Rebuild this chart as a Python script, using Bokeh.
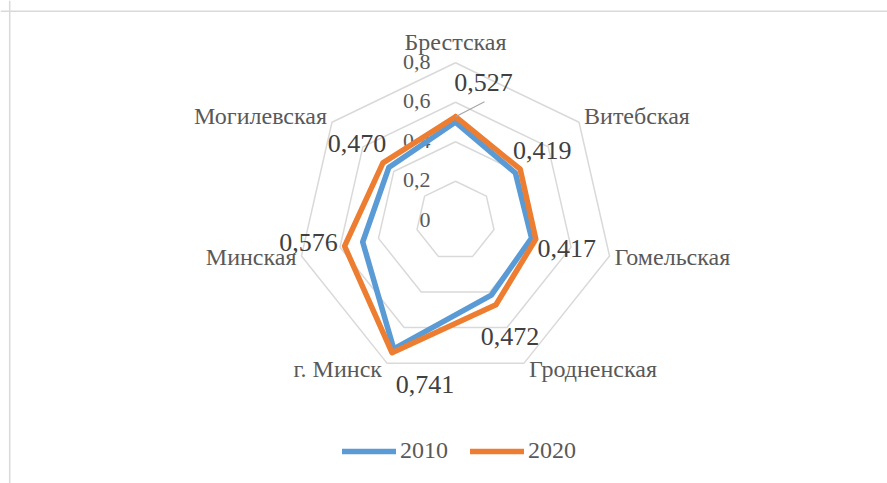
import math
from bokeh.plotting import figure
from bokeh.models import Range1d, Span, Legend, LegendItem, ColumnDataSource
from bokeh.core.properties import value
from bokeh.embed import file_html
from bokeh.resources import INLINE

# ---- data ----
categories = ["Брестская", "Витебская", "Гомельская", "Гродненская",
              "г. Минск", "Минская", "Могилевская"]
values_2010 = [0.500, 0.388, 0.395, 0.418, 0.720, 0.482, 0.432]
values_2020 = [0.527, 0.419, 0.417, 0.472, 0.741, 0.576, 0.470]
series_names = ["2010", "2020"]
tick_values = [0, 0.2, 0.4, 0.6, 0.8]
tick_labels = ["0", "0,2", "0,4", "0,6", "0,8"]

# ---- layout / style ----
W, H = 887, 483
S = 197.5               # pixels per unit of value
CX, CY = 455.0, 220.3   # centre of radar in figure pixels
FONT_NAME = "Times New Roman"
FONT = value(FONT_NAME)
TXT = "#595959"
GRID = "#d9d9d9"
C2010 = "#5b9bd5"
C2020 = "#ed7d31"

# data-label placement (screen px offsets from 2020 point)
lab_dx = [28, 22, 31, 14, 33, -36, -26]
lab_dy = [-34, -19, 9, 32, 32, -4, -19]

n = len(categories)
angles = [2 * math.pi * k / n for k in range(n)]


def xy(vals):
    xs = [v * math.sin(a) for v, a in zip(vals, angles)]
    ys = [v * math.cos(a) for v, a in zip(vals, angles)]
    return xs, ys


p = figure(width=W, height=H, output_backend="svg", toolbar_location=None,
           x_range=Range1d(-CX / S, (W - CX) / S),
           y_range=Range1d(-(H - CY) / S, CY / S),
           min_border=0, outline_line_color=None)
p.axis.visible = False
p.grid.visible = False
p.background_fill_color = "white"
p.border_fill_color = "white"

# chart-area border (left & top)
p.add_layout(Span(location=-CX / S + 9.2 / S, dimension="height",
                  line_color=GRID, line_width=1.5))
p.add_layout(Span(location=CY / S - 10.8 / S, dimension="width",
                  line_color=GRID, line_width=1.5))

# grid rings
for t in tick_values[1:]:
    gx, gy = xy([t] * n)
    p.line(gx + gx[:1], gy + gy[:1], line_color=GRID, line_width=1.5)

# tick labels
p.text(x=[0] * len(tick_values), y=tick_values, text=tick_labels,
       x_offset=-25, y_offset=-1, text_align="right", text_baseline="middle",
       text_font=FONT, text_font_size="22px", text_color=TXT)

# series
x10, y10 = xy(values_2010)
x20, y20 = xy(values_2020)
r10 = p.line(x10 + x10[:1], y10 + y10[:1], line_color=C2010, line_width=5.5,
             line_join="round", line_cap="round")
r20 = p.line(x20 + x20[:1], y20 + y20[:1], line_color=C2020, line_width=5.5,
             line_join="round", line_cap="round")

# leader line for first label
p.segment(x0=[x20[0]], y0=[y20[0]], x1=[x20[0] + 29 / S], y1=[y20[0] + 15 / S],
          line_color="#a6a6a6", line_width=1.2)

# data labels (2020)
lab_text = [("%.3f" % v).replace(".", ",") for v in values_2020]
p.text(x=x20, y=y20, text=lab_text, x_offset=lab_dx, y_offset=lab_dy,
       text_align="center", text_baseline="middle",
       text_font=FONT, text_font_size="26px", text_color="#404040")

# category labels
ox, oy = xy([tick_values[-1]] * n)
aligns, xoffs, yoffs = [], [], []
for a in angles:
    s, c = math.sin(a), math.cos(a)
    if abs(s) < 0.1:
        aligns.append("center"); xoffs.append(0); yoffs.append(-21)
    else:
        aligns.append("left" if s > 0 else "right")
        xoffs.append(5 if s > 0 else -5)
        yoffs.append(-8 * c - 1)
src = ColumnDataSource(dict(x=ox, y=oy, t=categories, a=aligns, dx=xoffs, dy=yoffs))
p.text(x="x", y="y", text="t", text_align="a", x_offset="dx", y_offset="dy",
       text_baseline="middle", source=src,
       text_font=FONT, text_font_size="24px", text_color=TXT)

legend = Legend(items=[LegendItem(label=series_names[0], renderers=[r10]),
                       LegendItem(label=series_names[1], renderers=[r20])],
                orientation="horizontal", location=(342, 19),
                glyph_width=54, glyph_height=24, label_height=24,
                label_standoff=4, spacing=22, padding=0, margin=0,
                border_line_color=None, background_fill_alpha=0,
                label_text_font=FONT_NAME, label_text_font_size="24px",
                label_text_color=TXT)
p.add_layout(legend, "center")

open("out.html", "w").write(file_html(p, INLINE))
